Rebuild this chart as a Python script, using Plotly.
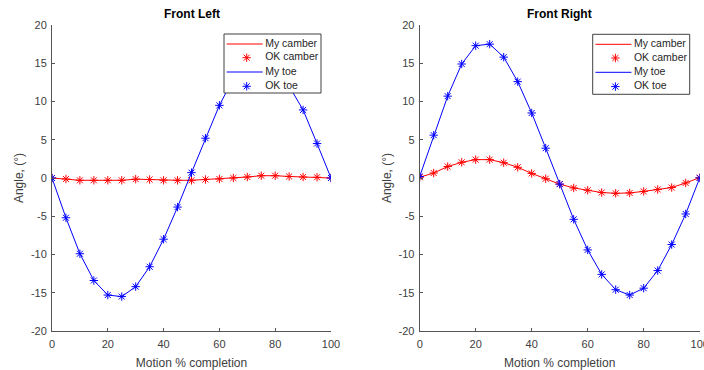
import plotly.graph_objects as go

x = [0, 5, 10, 15, 20, 25, 30, 35, 40, 45, 50, 55, 60, 65, 70, 75, 80, 85, 90, 95, 100]

fl_camber = [0, -0.13, -0.3, -0.3, -0.3, -0.3, -0.15, -0.2, -0.3, -0.3, -0.3, -0.2, -0.13, 0.0, 0.13, 0.3, 0.3, 0.2, 0.13, 0.1, 0]
fl_toe = [0, -5.2, -9.9, -13.4, -15.3, -15.5, -14.2, -11.6, -8.0, -3.8, 0.7, 5.2, 9.5, 13.0, 15.3, 15.6, 14.3, 12.0, 8.9, 4.5, 0]

fr_camber = [0.1, 0.65, 1.5, 2.05, 2.4, 2.4, 2.0, 1.4, 0.6, -0.1, -0.8, -1.3, -1.6, -1.9, -2.0, -1.95, -1.75, -1.5, -1.25, -0.65, 0.05]
fr_toe = [0.2, 5.6, 10.7, 14.9, 17.3, 17.5, 15.8, 12.6, 8.5, 3.9, -0.8, -5.4, -9.4, -12.6, -14.6, -15.3, -14.4, -12.1, -8.7, -4.7, 0]

titles = ["Front Left", "Front Right"]
legend_names = ["My camber", "OK camber", "My toe", "OK toe"]
x_ticks = [0, 20, 40, 60, 80, 100]
y_ticks = [-20, -15, -10, -5, 0, 5, 10, 15, 20]
x_ticktext = [str(v) for v in x_ticks]
y_ticktext = [str(v) for v in y_ticks]

RED = "#ff0000"
BLUE = "#0000ff"
FONT = "Liberation Sans, Arial, sans-serif"
W, H = 704, 370

fig = go.Figure()

panels = [(fl_camber, fl_toe, "x", "y"), (fr_camber, fr_toe, "x2", "y2")]
for cam, toe, xa, ya in panels:
    fig.add_trace(go.Scatter(x=x, y=cam, mode="lines", line=dict(color=RED, width=1),
                             xaxis=xa, yaxis=ya, showlegend=False, hoverinfo="skip"))
    fig.add_trace(go.Scatter(x=x, y=cam, mode="markers",
                             marker=dict(symbol="asterisk-open", size=7, color=RED,
                                         line=dict(color=RED, width=1)),
                             xaxis=xa, yaxis=ya, showlegend=False))
    fig.add_trace(go.Scatter(x=x, y=toe, mode="lines", line=dict(color=BLUE, width=1),
                             xaxis=xa, yaxis=ya, showlegend=False, hoverinfo="skip"))
    fig.add_trace(go.Scatter(x=x, y=toe, mode="markers",
                             marker=dict(symbol="asterisk-open", size=7, color=BLUE,
                                         line=dict(color=BLUE, width=1)),
                             xaxis=xa, yaxis=ya, showlegend=False))

# Hand-drawn legends on a full-page overlay subplot (pixel coordinates)
legend_boxes = [(224, 34, 97, 59), (592.7, 34.3, 97, 60)]
row_offsets = [10, 23.7, 38, 52.3]
row_colors = [RED, RED, BLUE, BLUE]
row_is_line = [True, False, True, False]
for bx, by, bw, bh in legend_boxes:
    fig.add_trace(go.Scatter(x=[bx, bx + bw, bx + bw, bx, bx], y=[by, by, by + bh, by + bh, by],
                             mode="lines", fill="toself", fillcolor="white",
                             line=dict(color="#404040", width=1),
                             xaxis="x3", yaxis="y3", showlegend=False, hoverinfo="skip"))
    for name, off, col, is_line in zip(legend_names, row_offsets, row_colors, row_is_line):
        ry = by + off
        if is_line:
            fig.add_trace(go.Scatter(x=[bx + 2.7, bx + 38.7], y=[ry, ry], mode="lines",
                                     line=dict(color=col, width=1),
                                     xaxis="x3", yaxis="y3", showlegend=False, hoverinfo="skip"))
        else:
            fig.add_trace(go.Scatter(x=[bx + 22.7], y=[ry], mode="markers",
                                     marker=dict(symbol="asterisk-open", size=7, color=col,
                                                 line=dict(color=col, width=1)),
                                     xaxis="x3", yaxis="y3", showlegend=False, hoverinfo="skip"))
        fig.add_trace(go.Scatter(x=[bx + 41.2], y=[ry], mode="text", text=[name],
                                 textposition="middle right",
                                 textfont=dict(family=FONT, size=10.5, color="#262626"),
                                 xaxis="x3", yaxis="y3", showlegend=False, hoverinfo="skip"))

axis_common = dict(showgrid=False, zeroline=False, showline=True, linecolor="#555555",
                   linewidth=1, ticks="inside", ticklen=3, tickcolor="#555555",
                   tickfont=dict(family=FONT, size=11, color="#404040"), mirror=False,
                   automargin=False, ticklabeloverflow="allow")

title_font = dict(family=FONT, size=12, color="#404040")

xa_common = dict(range=[0, 100], tickvals=x_ticks, ticktext=x_ticktext, ticklabelstandoff=3,
                 title=dict(text="Motion % completion", font=title_font, standoff=10), **axis_common)
ya_common = dict(domain=[1 - 331 / H, 1 - 25 / H], range=[-20, 20], tickvals=y_ticks, ticktext=y_ticktext,
                 ticklabelstandoff=2,
                 title=dict(text="Angle, (°)", font=title_font, standoff=4), **axis_common)

fig.update_layout(
    width=W, height=H,
    margin=dict(l=0, r=0, t=0, b=0),
    paper_bgcolor="white", plot_bgcolor="rgba(0,0,0,0)",
    font=dict(family=FONT, size=11, color="#262626"),
    xaxis=dict(domain=[52 / W, 331 / W], anchor="y", **xa_common),
    yaxis=dict(anchor="x", **ya_common),
    xaxis2=dict(domain=[419.7 / W, 699.7 / W], anchor="y2", **xa_common),
    yaxis2=dict(anchor="x2", **ya_common),
    xaxis3=dict(domain=[0, 1], range=[0, W], visible=False, anchor="y3", automargin=False, fixedrange=True),
    yaxis3=dict(domain=[0, 1], range=[H, 0], visible=False, anchor="x3", automargin=False, fixedrange=True),
    annotations=[
        dict(text="<b>%s</b>" % titles[0], x=(52 + 331) / 2 / W, y=1 - 14 / H, xref="paper", yref="paper",
             showarrow=False, font=dict(family=FONT, size=12, color="#000000"), xanchor="center", yanchor="middle"),
        dict(text="<b>%s</b>" % titles[1], x=(419.7 + 699.7) / 2 / W, y=1 - 14 / H, xref="paper", yref="paper",
             showarrow=False, font=dict(family=FONT, size=12, color="#000000"), xanchor="center", yanchor="middle"),
    ],
)

fig.write_html("out.html")
